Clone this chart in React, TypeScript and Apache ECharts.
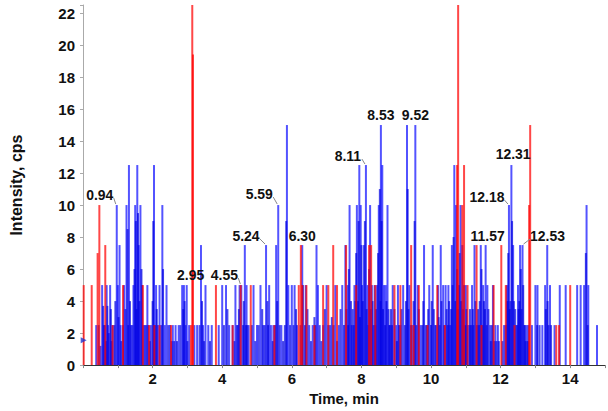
import React, { useEffect, useRef } from "react";
import * as echarts from "echarts";

// Main spike retention times (min) and intensities (cps)
const blueTimes = [
  0.38, 0.55, 0.6, 0.68, 0.72, 0.78, 0.85, 0.97, 1.0, 1.05, 1.08,
  1.18, 1.25, 1.32, 1.38, 1.45, 1.5, 1.56, 1.6, 1.65, 1.7, 1.78, 1.85, 1.95,
  2.04, 2.1, 2.15, 2.2, 2.28, 2.35, 2.4, 2.5, 2.58, 2.66, 2.75,
  2.85, 2.9, 2.95, 2.98, 3.05, 3.2, 3.28, 3.39, 3.45, 3.52, 3.6, 3.7, 3.9,
  4.0, 4.11, 4.2, 4.3, 4.38, 4.45, 4.5, 4.55, 4.65, 4.7, 4.76, 4.9,
  5.0, 5.1, 5.18, 5.26, 5.35, 5.4, 5.47, 5.55, 5.61, 5.7, 5.86, 5.9,
  6.0, 6.08, 6.15, 6.3, 6.4, 6.5, 6.6, 6.71, 6.75, 6.9,
  7.0, 7.1, 7.25, 7.35, 7.45, 7.54, 7.6, 7.66, 7.72, 7.8, 7.87, 7.94, 7.98,
  8.02, 8.07, 8.13, 8.18, 8.25, 8.3, 8.35, 8.45, 8.5, 8.56, 8.6, 8.65, 8.7,
  8.75, 8.82, 8.9, 9.0, 9.05, 9.12, 9.2, 9.31, 9.38, 9.45, 9.55, 9.62, 9.7,
  9.8, 9.88, 9.95, 10.05, 10.12, 10.2, 10.28, 10.35, 10.42, 10.5, 10.55,
  10.6, 10.67, 10.72, 10.8, 10.85, 10.9, 11.0, 11.1, 11.18, 11.25, 11.38,
  11.43, 11.5, 11.57, 11.62, 11.7, 11.78, 11.85, 11.92, 12.1, 12.18, 12.24,
  12.31, 12.36, 12.45, 12.5, 12.56, 12.63, 12.68, 12.75, 12.9, 13.0, 13.06,
  13.2, 13.28, 13.34, 13.42, 13.55, 13.7, 13.87, 14.2, 14.3, 14.4, 14.47,
  14.52, 14.77,
];
const blueValues = [
  2.5, 5, 2.5, 5, 2.5, 5, 2.5, 10, 5, 7.5, 2.5,
  5, 10, 12.5, 2.5, 5, 10, 12.5, 7.5, 10, 5, 2.5, 5, 2.5,
  12.5, 5, 2.5, 5, 10, 2.5, 5, 2.5, 2.5, 2.5, 2.5,
  5, 5, 2.5, 5, 2.5, 2.5, 2.5, 7.5, 2.5, 5, 2.5, 2.5, 2.5,
  5, 5, 2.5, 2.5, 5, 2.5, 5, 5, 7.5, 5, 2.5, 5,
  2.5, 5, 2.5, 7.5, 5, 2.5, 2.5, 7.5, 10, 2.5, 15, 5,
  5, 5, 2.5, 7.5, 5, 2.5, 2.5, 7.5, 5, 2.5,
  5, 2.5, 5, 2.5, 5, 7.5, 5, 10, 2.5, 5, 10, 12.5, 10,
  5, 7.5, 12.5, 5, 10, 5, 2.5, 5, 10, 15, 12.5, 5, 5,
  10, 2.5, 5, 2.5, 5, 2.5, 5, 15, 5, 2.5, 15, 5, 2.5,
  7.5, 2.5, 5, 7.5, 2.5, 5, 7.5, 5, 5, 5, 2.5,
  7.5, 12.5, 10, 5, 10, 7.5, 5, 2.5, 5, 7.5, 2.5,
  7.5, 5, 7.5, 5, 2.5, 5, 2.5, 2.5, 2.5, 5, 10,
  12.5, 7.5, 2.5, 5, 7.5, 7.5, 2.5, 2.5, 2.5, 5, 5,
  2.5, 5, 7.5, 5, 2.5, 5, 5, 5, 5, 5, 10,
  5, 2.5,
];
// Smaller, overlapping blue scans filling the dense regions
const blueMinorTimes = [
  0.45, 0.5, 0.58, 0.63, 0.66, 0.7, 0.74, 0.8, 0.82, 0.9, 0.93, 1.02, 1.1, 1.15,
  1.22, 1.28, 1.3, 1.35, 1.42, 1.48, 1.52, 1.54, 1.58, 1.62, 1.68, 1.74, 1.82,
  1.88, 1.92, 2.0, 2.02, 2.07, 2.12, 2.25, 2.3, 2.45, 2.55, 2.62, 2.7, 2.8, 2.88,
  2.92, 3.0, 3.35, 3.42, 3.48, 3.65, 4.05, 4.15, 4.35, 4.42, 4.48, 4.6, 4.62,
  4.68, 4.72, 4.85, 4.95, 5.05, 5.15, 5.22, 5.3, 5.32, 5.45, 5.52, 5.58, 5.65,
  5.75, 5.8, 5.84, 5.95, 6.05, 6.12, 6.25, 6.32, 6.38, 6.45, 6.55, 6.65, 6.68,
  6.8, 6.85, 6.95, 7.05, 7.15, 7.2, 7.3, 7.4, 7.5, 7.57, 7.62, 7.64, 7.7, 7.75,
  7.78, 7.83, 7.85, 7.9, 7.92, 7.96, 8.0, 8.04, 8.1, 8.15, 8.2, 8.22, 8.27, 8.32,
  8.38, 8.4, 8.42, 8.48, 8.53, 8.55, 8.58, 8.62, 8.68, 8.72, 8.78, 8.8, 8.85,
  8.88, 8.95, 9.02, 9.08, 9.15, 9.25, 9.28, 9.33, 9.35, 9.42, 9.5, 9.53, 9.58,
  9.65, 9.75, 9.78, 9.85, 9.92, 10.0, 10.02, 10.08, 10.15, 10.22, 10.25, 10.3,
  10.38, 10.45, 10.48, 10.52, 10.58, 10.62, 10.65, 10.7, 10.75, 10.77, 10.82,
  10.87, 10.92, 10.95, 10.98, 11.02, 11.05, 11.12, 11.15, 11.2, 11.22, 11.28,
  11.32, 11.35, 11.4, 11.45, 11.48, 11.52, 11.55, 11.6, 11.65, 11.72, 11.75,
  11.82, 11.88, 11.95, 12.05, 12.15, 12.2, 12.22, 12.26, 12.28, 12.33, 12.38,
  12.42, 12.48, 12.52, 12.54, 12.58, 12.6, 12.65, 12.7, 12.72, 12.78, 12.8,
  13.05, 13.12, 13.3, 13.35, 13.38, 13.45, 14.45, 14.5,
];
const blueMinorValues = [
  2.5, 1.2, 3.7, 2.5, 1.5, 3.7, 2, 3.5, 1.5, 2.5, 4, 3, 1.5, 2.5,
  3.5, 8.5, 2.5, 4, 2.5, 6, 9, 3.5, 9.5, 4, 6, 2.5, 2.5,
  2.5, 1.5, 4, 9, 2.5, 3.5, 2.5, 6, 2.5, 1.5, 1.5, 1.5, 2.5, 3.5,
  4, 1.5, 2.5, 4, 1.5, 1.5, 2.5, 3.5, 1.5, 2.5, 3.5, 2.5, 4,
  2.5, 2.5, 2.5, 1.5, 2.5, 3.5, 2.5, 4, 2.5, 1.5, 2.5, 4, 2.5,
  1.5, 2.5, 9, 2.5, 2.5, 3.5, 2.5, 5, 2.5, 3.5, 1.5, 3, 2.5,
  2.5, 1.5, 3.5, 2.5, 3, 2.5, 1.5, 3.5, 2.5, 3.5, 2.5, 6, 4, 3.5,
  2.5, 4, 7, 4, 9, 3, 7.5, 4, 9, 3.5, 2.5, 6, 3.5, 4,
  5, 2.5, 3.5, 7, 11, 4, 9, 3.5, 2.5, 4, 3.5, 2.5, 3.5,
  2.5, 3.5, 1.5, 2.5, 3.5, 2.5, 4, 11, 3.5, 2.5, 4, 9, 2.5,
  3.5, 2.5, 4, 2.5, 3.5, 2.5, 4, 3.5, 2.5, 3, 2.5, 4,
  2.5, 3.5, 2.5, 4, 3.5, 5, 8, 4, 6, 3.5, 7,
  4, 3.5, 5, 2.5, 3.5, 2.5, 3.5, 2.5, 3.5, 2.5, 4,
  2.5, 3.5, 4, 6, 2.5, 4, 3.5, 2.5, 3.5, 1.5, 2.5,
  1.5, 1.5, 1.5, 1.5, 2.5, 4, 7, 3.5, 4, 9, 4,
  3.5, 2.5, 3.5, 4, 6, 3.5, 5, 2.5, 1.5, 1.5, 2.5,
  2.5, 2.5, 3.5, 4, 2.5, 2.5, 7, 2.5,
];
const redTimes = [
  0.02, 0.25, 0.42, 0.47, 0.64, 0.85, 1.15, 1.72, 1.9, 2.05, 2.2, 2.53,
  3.1, 3.14, 3.16, 3.82, 4.3, 4.53, 4.82, 5.5, 6.2, 6.26, 6.3, 6.42, 6.65,
  6.9, 7.05, 7.19, 7.3, 7.56, 7.85, 8.22, 8.28, 8.4, 8.95, 9.12, 9.43, 9.5,
  9.65, 9.9, 10.18, 10.4, 10.75, 10.78, 10.9, 10.95, 11.05, 11.31, 11.45,
  11.8, 12.02, 12.15, 12.4, 12.82, 12.85, 13.6, 13.68, 14.0,
];
const redValues = [
  5, 5, 7, 10, 7.5, 2.5, 5, 5, 2.5, 2.5, 2.5, 2.5,
  2.5, 22.5, 19.4, 5, 2.5, 5, 5, 2.5, 5, 7.5, 5, 5, 2.5,
  5, 5, 7.5, 5, 7.5, 5, 7.5, 7.5, 5, 5, 5, 7.5, 2.5,
  5, 2.5, 5, 2.5, 12.5, 22.5, 10, 12.5, 5, 7.5, 2.5,
  5, 7.5, 5, 2.5, 10, 15, 2.5, 2.5, 5,
];

// Peak annotations
const peakTexts = ["0.94", "2.95", "4.55", "5.24", "5.59", "6.30", "8.11", "8.53", "9.52", "11.57", "12.18", "12.31", "12.53"];
const peakTimes = [0.97, 2.95, 4.55, 5.26, 5.61, 6.3, 8.13, 8.56, 9.55, 11.57, 12.24, 12.36, 12.63];
const peakValues = [10, 5, 5, 7.5, 10, 7.5, 12.5, 15, 15, 7.5, 10, 12.5, 7.5];
// label offsets from peak top in px, and whether a leader line is drawn
const labelDx = [-17, 5, -17, -20, -19, 0, -18, 0, 0, 2, -22, 0, 25];
const labelDy = [-10, -10, -10, -9, -11, -9, -9, -10, -10, -9, -8, -11, -9];
const labelLeader = [1, 0, 1, 1, 1, 0, 1, 0, 0, 0, 1, 0, 1];

const xTicks = [2, 4, 6, 8, 10, 12, 14];
const FONT = '"Liberation Sans", Arial, sans-serif';

function spikeSeries(times: number[], values: number[], color: string) {
  return {
    type: "custom",
    clip: true,
    encode: { x: 0, y: 1 },
    data: times.map((t, i) => [t, values[i]]),
    renderItem: (_p: any, api: any) => {
      const t = api.value(0);
      const v = api.value(1);
      const a = api.coord([t, 0]);
      const b = api.coord([t, v]);
      return {
        type: "line",
        shape: { x1: a[0], y1: a[1], x2: b[0], y2: b[1] },
        style: { stroke: color, lineWidth: 2 },
      };
    },
  };
}

export default function App() {
  const ref = useRef<HTMLDivElement>(null);
  useEffect(() => {
    document.body.style.margin = "0";
    const chart = echarts.init(ref.current!, undefined, { renderer: "svg" });
    chart.setOption({
      animation: false,
      backgroundColor: "#fff",
      grid: { left: 77, right: 3, top: 5, bottom: 44 },
      xAxis: {
        type: "value",
        min: 0,
        max: 15,
        interval: 1,
        name: "Time, min",
        nameLocation: "middle",
        nameGap: 25,
        nameTextStyle: { fontFamily: FONT, fontWeight: "bold", fontSize: 15, color: "#111" },
        axisLine: { lineStyle: { color: "#333", width: 1 } },
        axisTick: { show: true, length: 3, lineStyle: { color: "#888" } },
        axisLabel: {
          margin: 6,
          fontFamily: FONT,
          fontWeight: "bold",
          fontSize: 15,
          color: "#111",
          formatter: (v: number) => (xTicks.indexOf(v) >= 0 ? String(v) : ""),
        },
        splitLine: { show: false },
      },
      yAxis: {
        type: "value",
        min: 0,
        max: 22.5,
        interval: 2,
        name: "Intensity, cps",
        nameLocation: "middle",
        nameGap: 59,
        nameTextStyle: { fontFamily: FONT, fontWeight: "bold", fontSize: 16, color: "#111" },
        axisLine: { show: true, lineStyle: { color: "#aaa", width: 1 } },
        axisTick: { show: true, length: 3, lineStyle: { color: "#aaa" } },
        axisLabel: {
          margin: 8,
          fontFamily: FONT,
          fontWeight: "bold",
          fontSize: 15,
          color: "#111",
          formatter: (v: number) => (v % 2 === 0 ? String(v) : ""),
        },
        splitLine: { show: false },
      },
      series: [
        spikeSeries(blueTimes, blueValues, "rgba(10,10,255,0.7)"),
        spikeSeries(blueMinorTimes, blueMinorValues, "rgba(0,0,225,0.7)"),
        spikeSeries(redTimes, redValues, "rgba(255,0,0,0.72)"),
        {
          type: "scatter",
          data: [[0.02, 1.55]],
          symbol: "triangle",
          symbolRotate: -90,
          symbolSize: 6,
          itemStyle: { color: "#2233cc" },
          z: 5,
        },
        {
          type: "custom",
          clip: false,
          encode: { x: 0, y: 1 },
          z: 10,
          data: peakTimes.map((t, i) => [t, peakValues[i], i]),
          renderItem: (_p: any, api: any) => {
            const i = api.value(2);
            const p = api.coord([api.value(0), api.value(1)]);
            const text = peakTexts[i];
            const cx = p[0] + labelDx[i];
            const cy = p[1] + labelDy[i];
            const half = text.length * 3.5;
            const children: any[] = [
              {
                type: "text",
                x: cx,
                y: cy,
                scaleX: 0.9,
                style: {
                  text,
                  font: `bold 15.5px ${FONT}`,
                  fill: "#111",
                  align: "center",
                  verticalAlign: "middle",
                },
              },
            ];
            if (labelLeader[i]) {
              const sx = labelDx[i] < 0 ? cx + half : cx - half;
              children.push({
                type: "line",
                shape: { x1: sx, y1: cy + 3, x2: p[0] + (labelDx[i] < 0 ? -1 : 1), y2: p[1] - 1 },
                style: { stroke: "#888", lineWidth: 1 },
              });
            }
            return { type: "group", children };
          },
        },
      ],
    });
    return () => chart.dispose();
  }, []);
  return <div ref={ref} style={{ width: 608, height: 411 }} />;
}
